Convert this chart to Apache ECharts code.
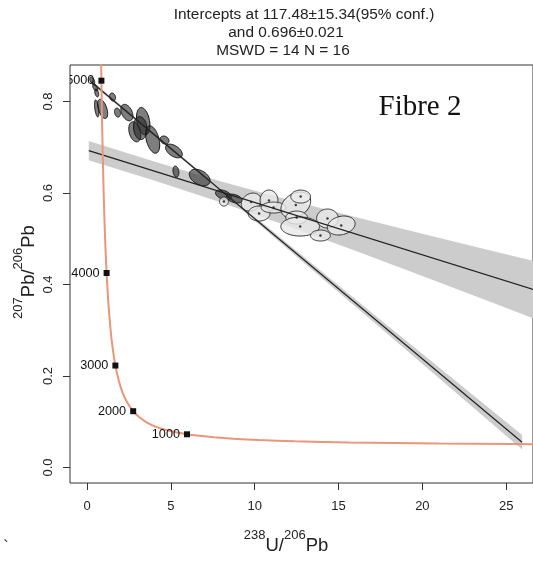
<!DOCTYPE html>
<html><head><meta charset="utf-8">
<script src="https://cdn.jsdelivr.net/npm/echarts@6/dist/echarts.min.js"></script>
<style>html,body{margin:0;padding:0;background:#fff}#c{width:533px;height:561px}</style>
</head><body><div id="c"></div>
<script>
// ---- Data ----
// Concordia curve (Tera-Wasserburg), points along the curve
const concAge = [230,240,250,300,400,500,600,700,800,900,1000,1200,1400,1600,1800,2000,2250,2500,2750,3000,3250,3500,3750,4000,4250,4500,4750,5000,5250];
const concX = [27.531,26.363,25.289,20.992,15.621,12.399,10.252,8.718,7.568,6.674,5.959,4.888,4.123,3.550,3.105,2.749,2.394,2.111,1.880,1.687,1.525,1.387,1.267,1.163,1.071,0.990,0.918,0.853,0.795];
const concY = [0.0508,0.0510,0.0512,0.0524,0.0547,0.0572,0.0599,0.0628,0.0658,0.0691,0.0725,0.0802,0.0888,0.0988,0.1101,0.1230,0.1419,0.1643,0.1910,0.2228,0.2607,0.3060,0.3602,0.4252,0.5032,0.5970,0.7098,0.8457,1.0095];
// Age markers on concordia
const markAge = [1000,2000,3000,4000,5000];
const markX = [5.959,2.749,1.687,1.163,0.853];
const markY = [0.0725,0.1230,0.2228,0.4252,0.8457];
// Dark ellipses: centre x, centre y, half-width x, half-height y, correlation
const darkX = [0.307,0.484,0.573,0.573,0.927,1.518,1.813,2.374,3.349,2.847,3.910,3.172,4.619,5.180,5.298,6.716,8.134,8.783];
const darkY = [0.846,0.831,0.819,0.785,0.784,0.810,0.776,0.776,0.757,0.734,0.717,0.742,0.716,0.692,0.647,0.634,0.596,0.588];
const darkA = [0.148,0.148,0.118,0.130,0.300,0.177,0.177,0.360,0.400,0.360,0.420,0.400,0.266,0.500,0.177,0.620,0.473,0.473];
const darkB = [0.0077,0.0077,0.0087,0.0186,0.0210,0.0087,0.0098,0.0180,0.0300,0.0220,0.0300,0.0250,0.0087,0.0150,0.0120,0.0180,0.0109,0.0098];
const darkR = [-0.5,-0.5,-0.4,-0.5,-0.5,-0.2,-0.2,-0.4,-0.3,-0.3,-0.4,-0.1,-0.2,-0.5,-0.2,-0.4,-0.4,-0.4];
// Light ellipses
const lightX = [8.163,9.788,10.85,10.26,11.12,12.45,12.74,12.50,12.71,13.92,14.34,15.16];
const lightY = [0.5814,0.5803,0.5836,0.5552,0.5683,0.5738,0.5923,0.5464,0.5268,0.5071,0.5443,0.5290];
const lightA = [0.266,0.591,0.532,0.650,0.738,0.886,0.591,0.650,1.152,0.591,0.650,0.827];
const lightB = [0.0098,0.0197,0.0230,0.0164,0.0120,0.0284,0.0142,0.0142,0.0208,0.0120,0.0208,0.0208];
const lightR = [0,0.2,0,0,0,0.3,0,0,0,0,0,0.2];
// Regression lines (end points)
const shallowLineX = [0.1, 27];
const shallowLineY = [0.6929, 0.3846];
const steepLineX = [0.25, 25.95];
const steepLineY = [0.8428, 0.055];
// Confidence bands
const shallowBandX = [0.1, 4, 8, 12, 16, 20, 24, 27];
const shallowBandHi = [0.7139, 0.6692, 0.6253, 0.5855, 0.5476, 0.5108, 0.4750, 0.4486];
const shallowBandLo = [0.6719, 0.6272, 0.5793, 0.5275, 0.4736, 0.4188, 0.3630, 0.3206];
const steepBandX = [0.25, 5, 9, 13, 17, 21, 25.95];
const steepBandHi = [0.8468, 0.7002, 0.5786, 0.4585, 0.3379, 0.2188, 0.0710];
const steepBandLo = [0.8388, 0.6942, 0.5706, 0.4455, 0.3209, 0.1948, 0.0390];
// Axis ticks
const xTicks = [0, 5, 10, 15, 20, 25];
const yTicks = [0, 0.2, 0.4, 0.6, 0.8];
const titleLines = ['Intercepts at 117.48\u00b115.34(95% conf.)', 'and 0.696\u00b10.021', 'MSWD = 14 N = 16'];
const xTitleParts = [['238', true], ['U/', false], ['206', true], ['Pb', false]];
const yTitleParts = [['207', true], ['Pb/', false], ['206', true], ['Pb', false]];

// ---- Chart ----
const FONT = '"Liberation Sans", Arial, Helvetica, sans-serif';
const chart = echarts.init(document.getElementById('c'), null, {renderer: 'canvas', width: 533, height: 561});

function zip() { const arrs = Array.from(arguments); return arrs[0].map((_, i) => arrs.map(a => a[i])); }

const mctx = document.createElement('canvas').getContext('2d');
function textWidth(t, size) { mctx.font = size + 'px ' + FONT; return mctx.measureText(t).width; }
function supTitle(parts, cx, cy, rot) {
  const MAIN = 18.5, SUP = 13;
  const widths = parts.map(p => textWidth(p[0], p[1] ? SUP : MAIN));
  const total = widths.reduce((a, b) => a + b, 0);
  let x = -total / 2;
  const children = [];
  parts.forEach((p, i) => {
    children.push({type: 'text', x: x, y: p[1] ? -10.5 : 0,
      style: {text: p[0], fontSize: p[1] ? SUP : MAIN, fontFamily: FONT, fill: '#222', align: 'left', verticalAlign: 'middle'}});
    x += widths[i];
  });
  return {type: 'group', x: cx, y: cy, rotation: rot, children: children};
}

function ellipseRender(fill, stroke) {
  return function (params, api) {
    const cx = api.value(0), cy = api.value(1), a = api.value(2), b = api.value(3), r = api.value(4);
    const s = Math.sqrt(1 - r * r);
    const pts = [];
    for (let k = 0; k < 72; k++) {
      const t = k / 72 * Math.PI * 2;
      pts.push(api.coord([cx + a * Math.cos(t), cy + b * (r * Math.cos(t) + s * Math.sin(t))]));
    }
    return {type: 'polygon', shape: {points: pts}, style: {fill: fill, stroke: stroke, lineWidth: 1}};
  };
}
function bandRender(xs, lo, hi, fill) {
  return function (params, api) {
    const pts = [];
    for (let i = 0; i < xs.length; i++) pts.push(api.coord([xs[i], hi[i]]));
    for (let i = xs.length - 1; i >= 0; i--) pts.push(api.coord([xs[i], lo[i]]));
    return {type: 'polygon', shape: {points: pts}, style: {fill: fill}};
  };
}

const option = {
  animation: false,
  backgroundColor: '#fff',
  grid: {left: 70, top: 65, right: -5, bottom: 78, show: true, borderColor: '#333', borderWidth: 1, backgroundColor: 'transparent'},
  xAxis: {
    type: 'value', min: -1.02, max: 26.6,
    axisLine: {show: false, onZero: false}, splitLine: {show: false},
    axisTick: {show: true, length: 7, customValues: xTicks, lineStyle: {color: '#333'}},
    axisLabel: {customValues: xTicks, margin: 17, fontSize: 13, color: '#222', fontFamily: FONT}
  },
  yAxis: {
    type: 'value', min: -0.034, max: 0.88,
    axisLine: {show: false, onZero: false}, splitLine: {show: false},
    axisTick: {show: true, length: 7, customValues: yTicks, lineStyle: {color: '#333'}},
    axisLabel: {customValues: yTicks, rotate: 90, margin: 15, fontSize: 13, color: '#222', fontFamily: FONT,
      formatter: v => v.toFixed(1)}
  },
  graphic: [
    {type: 'text', x: 304, y: 15, style: {text: titleLines[0], align: 'center', verticalAlign: 'middle', fontSize: 15.4, fontFamily: FONT, fill: '#222'}},
    {type: 'text', x: 286, y: 33, style: {text: titleLines[1], align: 'center', verticalAlign: 'middle', fontSize: 15.4, fontFamily: FONT, fill: '#222'}},
    {type: 'text', x: 283, y: 51, style: {text: titleLines[2], align: 'center', verticalAlign: 'middle', fontSize: 15.4, fontFamily: FONT, fill: '#222'}},
    supTitle(xTitleParts, 286, 546, 0),
    supTitle(yTitleParts, 29, 272, Math.PI / 2),
    {type: 'text', x: 420, y: 107, style: {text: 'Fibre 2', align: 'center', verticalAlign: 'middle', fontSize: 29, fontFamily: '"Liberation Serif", "Times New Roman", serif', fill: '#111'}},
    {type: 'text', x: 6, y: 548, style: {text: '`', align: 'center', verticalAlign: 'middle', fontSize: 16, fontFamily: FONT, fill: '#222'}}
  ],
  series: [
    {type: 'custom', clip: true, z: 1, data: [[0, 0]], renderItem: bandRender(shallowBandX, shallowBandLo, shallowBandHi, '#cccccc')},
    {type: 'custom', clip: true, z: 1, data: [[0, 0]], renderItem: bandRender(steepBandX, steepBandLo, steepBandHi, '#cccccc')},
    {type: 'custom', clip: true, z: 2, data: zip(darkX, darkY, darkA, darkB, darkR), encode: {x: 0, y: 1},
      renderItem: ellipseRender('rgba(40,40,40,0.6)', '#111')},
    {type: 'custom', clip: true, z: 2, data: zip(lightX, lightY, lightA, lightB, lightR), encode: {x: 0, y: 1},
      renderItem: ellipseRender('rgba(232,232,232,0.8)', '#333')},
    {type: 'scatter', z: 3, symbol: 'circle', symbolSize: 2.5, itemStyle: {color: '#111'}, data: zip(lightX, lightY), silent: true},
    {type: 'line', z: 4, symbol: 'none', lineStyle: {color: '#222', width: 1.2}, data: zip(shallowLineX, shallowLineY)},
    {type: 'line', z: 4, symbol: 'none', lineStyle: {color: '#222', width: 1.2}, data: zip(steepLineX, steepLineY)},
    {type: 'line', z: 5, symbol: 'none', smooth: 0.2, lineStyle: {color: '#E9967A', width: 2}, data: zip(concX, concY)},
    {type: 'custom', clip: true, z: 6, data: zip(markX, markY), encode: {x: 0, y: 1},
      renderItem: function (params, api) {
        const p = api.coord([api.value(0), api.value(1)]);
        return {type: 'group', children: [
          {type: 'rect', shape: {x: p[0] - 3, y: p[1] - 3, width: 6, height: 6}, style: {fill: '#111'}},
          {type: 'text', x: p[0] - 7, y: p[1], style: {text: String(markAge[params.dataIndex]), align: 'right', verticalAlign: 'middle', fontSize: 12.7, fontFamily: FONT, fill: '#111'}}
        ]};
      }}
  ]
};
chart.setOption(option);
</script>
</body></html>
